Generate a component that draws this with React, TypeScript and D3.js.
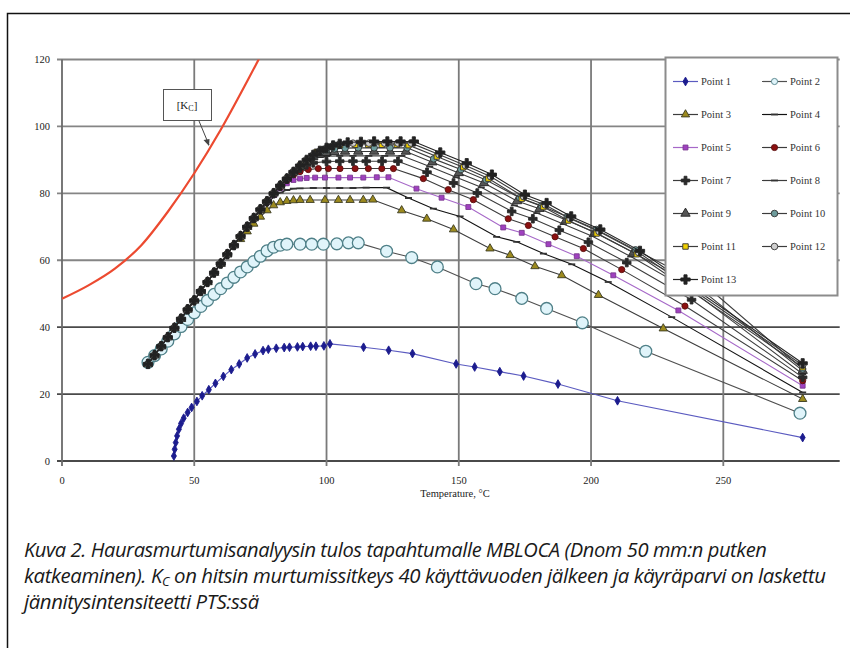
import { useEffect, useRef } from "react";
import * as d3 from "d3";

// Kc curve (fracture toughness after 40 years)
const kcT = [0, 10, 20, 30, 40, 50, 60, 70, 76];
const kcK = [48.5, 52.5, 57.5, 64.5, 74.5, 86, 99, 113.5, 122.5];

// rising branch shared by points 3..13
const riseT = [32.5, 35, 37.5, 40, 42.5, 45, 47.5, 50, 52.5, 55, 57.5, 60, 62.5, 65, 67.5, 70, 72.5, 75, 77.5, 80, 82.5, 85, 87.5, 90, 92.5, 95, 97.5, 100, 102.5, 105];
const riseK = [29, 31.6, 34.3, 37, 39.8, 42.5, 45.3, 48, 50.8, 53.5, 56.3, 59, 61.8, 64.5, 67.2, 70, 72.6, 75.2, 77.6, 80, 82.3, 84.4, 86.4, 88.3, 90, 91.5, 92.7, 93.6, 94.3, 94.8];

const point1 = [[42.3, 1.5], [42.6, 3.5], [43, 5.5], [43.5, 7.5], [44.2, 9.5], [45, 11.2], [46, 12.8], [47.5, 14.5], [49, 16], [51, 17.8], [53, 19.5], [55.5, 21.3], [58, 23.2], [61, 25.3], [64, 27.3], [67, 29], [70, 30.8], [73, 32], [76, 33], [78, 33.4], [81, 33.7], [84, 33.9], [86, 34], [89, 34.1], [91, 34.2], [94, 34.3], [96, 34.3], [99, 34.4], [101.3, 35], [114, 34], [123.5, 33.1], [132.5, 32.1], [149, 29], [156, 28.1], [165.5, 26.7], [174.5, 25.4], [187.5, 23], [210, 18], [280, 7]];
const point2 = [[32.5, 29.5], [35, 31.5], [37.5, 33.5], [40, 35.8], [42.5, 38], [45, 40.2], [47.5, 42.3], [50, 44.3], [52.5, 46.2], [55, 48], [57.5, 49.8], [60, 51.5], [62.5, 53.2], [65, 54.9], [67.5, 56.5], [70, 58], [72.5, 59.6], [75, 61.2], [77.5, 62.8], [80, 63.9], [82.5, 64.5], [85, 64.8], [90, 64.8], [94.4, 64.8], [98.8, 64.8], [103.9, 64.9], [108.3, 65.2], [112, 65.2], [122.7, 62.7], [132.2, 60.8], [141.9, 58], [156.5, 53], [163.7, 51.5], [173.8, 48.6], [183.2, 45.6], [196.7, 41.3], [220.7, 32.8], [279, 14.3]];
const point3 = [[67.5, 66.3], [70, 68.6], [72.5, 70.9], [75, 73], [77.5, 74.9], [80, 76.4], [82.5, 77.3], [85, 77.7], [87.5, 77.9], [90, 78], [93.8, 78], [99.4, 78], [104.5, 78], [108.9, 78], [113.9, 78], [117.5, 78.1], [128.4, 74.9], [137.9, 72.4], [148, 69.2], [161.8, 63.5], [169.4, 61.5], [178.8, 58.2], [188.9, 55.5], [202.8, 49.6], [227.3, 39.6], [280, 18.5]];
const point4 = [[72.5, 72.4], [75, 74.8], [77.5, 77], [80, 78.9], [82.5, 80.2], [85, 81], [87.5, 81.4], [90, 81.5], [95, 81.6], [100, 81.6], [105, 81.6], [110, 81.6], [115, 81.7], [122.7, 81.7], [131, 78.6], [140.4, 75.4], [150.5, 73.1], [164.3, 67], [171.9, 65.5], [182, 62], [192.7, 58.8], [206.5, 53.5], [230.5, 43], [280, 20.5]];
const point5 = [[75, 75], [77.5, 77.3], [80, 79.5], [82.5, 81.5], [85, 83], [87.5, 84], [90, 84.4], [92.5, 84.6], [95.7, 84.7], [99.4, 84.7], [104.5, 84.7], [108.9, 84.7], [113.9, 84.7], [119, 84.8], [123.4, 84.8], [134, 81.4], [143.5, 78.7], [153.6, 75.9], [166.8, 69.8], [173.8, 68.2], [183.9, 64.8], [194.6, 61.2], [208.4, 55.5], [233, 45], [280, 22.5]];
const point6 = [[80, 79.8], [82.5, 81.9], [85, 83.9], [87.5, 85.5], [90, 86.5], [93.1, 87.1], [96.9, 87.4], [100.7, 87.4], [105.1, 87.4], [110.8, 87.4], [115.8, 87.4], [120.9, 87.4], [125.3, 87.4], [136.6, 84.4], [146, 81.1], [155.5, 78.1], [168.7, 72.4], [176.3, 70.4], [186.4, 67], [197.1, 63.5], [211.6, 57.2], [235.5, 46.3], [280, 24]];
const point7 = [[82.5, 82.2], [85, 84.2], [87.5, 86], [90, 87.5], [92.5, 88.5], [95, 89.1], [100, 89.5], [105, 89.6], [110, 89.6], [115, 89.6], [121, 89.6], [127, 89.6], [138, 86.3], [148, 83.1], [157, 80.1], [170, 74.6], [178, 72.4], [188, 69], [199, 65.4], [213.5, 59.3], [238, 48.2], [280, 25]];
const point8 = [[85, 84.3], [87.5, 86.2], [90, 87.9], [92.5, 89.3], [95, 90.2], [97.5, 90.8], [100, 91.1], [105, 91.2], [110, 91.2], [116, 91.2], [122, 91.2], [128.5, 91.2], [139, 88], [149, 84.8], [158.5, 81.8], [171, 76.4], [179.5, 74.1], [189.5, 70.8], [200.5, 67.2], [215, 61.1], [240, 49.8], [280, 26]];
const point9 = [[87.5, 86.3], [90, 88.1], [92.5, 89.6], [95, 90.8], [97.5, 91.6], [100, 92.1], [103, 92.4], [107, 92.5], [112, 92.5], [118, 92.5], [124, 92.5], [130, 92.5], [140, 89.3], [150, 86.1], [159.5, 83.1], [172, 77.7], [180.5, 75.4], [190.5, 72], [201.5, 68.4], [216, 62.3], [242, 51], [280, 27]];
const point10 = [[90, 88.2], [92.5, 89.9], [95, 91.2], [97.5, 92.2], [100, 92.9], [103, 93.3], [107, 93.5], [112, 93.6], [118, 93.6], [124, 93.6], [130.5, 93.6], [140.5, 90.3], [150.8, 87.1], [160.3, 84], [173, 78.7], [181.3, 76.3], [191, 73], [202, 69.2], [216.8, 63.1], [244, 52], [280, 27.5]];
const point11 = [[92.5, 90], [96.3, 92.4], [101.3, 93.9], [105.1, 94.4], [110.8, 94.5], [115.8, 94.5], [120.9, 94.5], [126.6, 94.5], [131, 94.4], [141.7, 91], [151.7, 87.8], [161.2, 84.4], [173.8, 78.4], [182, 75.9], [191.4, 71.9], [202.1, 68], [217.3, 61.8], [280, 28]];
const point12 = [[110, 95], [116, 95], [122, 95], [127, 95], [132, 95], [142.5, 91.6], [152.5, 88.3], [162, 85], [174.5, 79], [182.7, 76.5], [192, 72.5], [203, 68.6], [218, 62.3], [280, 28.6]];
const point13 = [[108, 95.2], [113, 95.4], [118, 95.5], [123, 95.5], [128, 95.5], [133, 95.5], [143, 92.2], [153, 89], [162.5, 85.6], [175, 79.6], [183.2, 77.1], [192.5, 73.1], [203.5, 69.2], [218.5, 62.8], [280, 29.2]];

// how many of the shared rising points each series uses before its own values
const sharedCount = [0, 0, 15, 16, 17, 19, 20, 21, 22, 23, 24, 30, 30];
const ownPoints = [point1, point2, point3, point4, point5, point6, point7, point8, point9, point10, point11, point12, point13];
const seriesNames = ["Point 1", "Point 2", "Point 3", "Point 4", "Point 5", "Point 6", "Point 7", "Point 8", "Point 9", "Point 10", "Point 11", "Point 12", "Point 13"];

const xTicks = [0, 50, 100, 150, 200, 250];
const yTicks = [0, 20, 40, 60, 80, 100, 120];

const styles = [
    { line: "#5b5bc0", marker: "diamond", fill: "#1c1c8e", stroke: "#1c1c8e", size: 22 },
    { line: "#505050", marker: "circle", fill: "#e0f4fa", stroke: "#4f8088", size: 110 },
    { line: "#3c3c3c", marker: "triangle", fill: "#9c8a1e", stroke: "#3a3a20", size: 30 },
    { line: "#111111", marker: "dash", fill: "#333", stroke: "#333", size: 0 },
    { line: "#a668c8", marker: "square", fill: "#a040c0", stroke: "#7a3a90", size: 24 },
    { line: "#3c3c3c", marker: "circle", fill: "#8b1010", stroke: "#5a1010", size: 30 },
    { line: "#3c3c3c", marker: "cross", fill: "#2a2a2a", stroke: "#2a2a2a", size: 40 },
    { line: "#3c3c3c", marker: "dash", fill: "#333", stroke: "#333", size: 0 },
    { line: "#3c3c3c", marker: "triangle", fill: "#555", stroke: "#222", size: 38 },
    { line: "#3c3c3c", marker: "circle", fill: "#6e9c9c", stroke: "#333", size: 34 },
    { line: "#3c3c3c", marker: "square", fill: "#f0d000", stroke: "#333", size: 30 },
    { line: "#3c3c3c", marker: "circle", fill: "#d0d0d0", stroke: "#333", size: 34 },
    { line: "#222222", marker: "cross", fill: "#222", stroke: "#222", size: 48 },
];

const captionLines = [
    "Kuva 2. Haurasmurtumisanalyysin tulos tapahtumalle MBLOCA (Dnom 50 mm:n putken",
    "katkeaminen). K|C| on hitsin murtumissitkeys 40 käyttävuoden jälkeen ja käyräparvi on laskettu",
    "jännitysintensiteetti PTS:ssä",
];
const captionWidths = [743, 802, 0];

const symbolTypes: Record<string, any> = {
    diamond: d3.symbolDiamond,
    circle: d3.symbolCircle,
    triangle: d3.symbolTriangle,
    square: d3.symbolSquare,
    cross: d3.symbolCross,
};

function drawMarker(g: any, st: any, x: number, y: number) {
    if (st.marker === "dash") {
        g.append("line")
            .attr("x1", x - 3.5).attr("x2", x + 3.5)
            .attr("y1", y).attr("y2", y)
            .attr("stroke", st.stroke).attr("stroke-width", 1.8);
        return;
    }
    g.append("path")
        .attr("d", d3.symbol().type(symbolTypes[st.marker]).size(st.size)())
        .attr("transform", `translate(${x},${y})`)
        .attr("fill", st.fill)
        .attr("stroke", st.stroke)
        .attr("stroke-width", st.marker === "circle" && st.size > 60 ? 1.3 : 0.9);
}

export default function App() {
    const ref = useRef<SVGSVGElement>(null);

    useEffect(() => {
        const svg = d3.select(ref.current);
        svg.selectAll("*").remove();

        const xScale = d3.scaleLinear().domain([0, 294]).range([62, 839.7]);
        const yScale = d3.scaleLinear().domain([0, 120]).range([461, 59.5]);
        const left = xScale(0), right = xScale(294), top = yScale(120), bottom = yScale(0);

        // outer frame
        svg.append("path")
            .attr("d", `M7.5,648 L7.5,13.5 L850,13.5`)
            .attr("fill", "none").attr("stroke", "#111").attr("stroke-width", 1.5);

        svg.append("defs").append("clipPath").attr("id", "plotclip")
            .append("rect").attr("x", left).attr("y", top)
            .attr("width", right - left).attr("height", bottom - top);

        // grid
        const grid = svg.append("g");
        yTicks.forEach(v => {
            grid.append("line")
                .attr("x1", left - 5).attr("x2", right)
                .attr("y1", yScale(v)).attr("y2", yScale(v))
                .attr("stroke", v <= 40 ? "#4a4a4a" : "#858585")
                .attr("stroke-width", 1.8);
        });
        xTicks.forEach(v => {
            grid.append("line")
                .attr("x1", xScale(v)).attr("x2", xScale(v))
                .attr("y1", top).attr("y2", bottom + 5)
                .attr("stroke", v === 0 ? "#6a6a6a" : "#7a7a7a")
                .attr("stroke-width", 1.8);
        });

        // tick labels
        svg.append("g").selectAll("text").data(yTicks).join("text")
            .attr("x", 50).attr("y", d => yScale(d) + 3.5)
            .attr("text-anchor", "end")
            .style("font-family", "'Liberation Serif', serif").style("font-size", "10.5px")
            .attr("fill", "#222")
            .text(d => d);
        svg.append("g").selectAll("text").data(xTicks).join("text")
            .attr("x", d => xScale(d)).attr("y", 484)
            .attr("text-anchor", "middle")
            .style("font-family", "'Liberation Serif', serif").style("font-size", "10.5px")
            .attr("fill", "#222")
            .text(d => d);
        svg.append("text")
            .attr("x", 455).attr("y", 497)
            .attr("text-anchor", "middle")
            .style("font-family", "'Liberation Serif', serif").style("font-size", "10.5px")
            .attr("fill", "#222")
            .text("Temperature, °C");

        const plot = svg.append("g").attr("clip-path", "url(#plotclip)");

        // Kc curve
        const kcData = kcT.map((t, i) => [t, kcK[i]]);
        plot.append("path")
            .datum(kcData)
            .attr("fill", "none")
            .attr("stroke", "#ec4a30")
            .attr("stroke-width", 2.2)
            .attr("d", d3.line<any>().x(d => xScale(d[0])).y(d => yScale(d[1])).curve(d3.curveMonotoneX));

        // series
        const line = d3.line<any>().x(d => xScale(d[0])).y(d => yScale(d[1]));
        ownPoints.forEach((own, i) => {
            const shared = riseT.slice(0, sharedCount[i]).map((t, j) => [t, riseK[j]]);
            const data = shared.concat(own);
            const st = styles[i];
            const g = plot.append("g");
            g.append("path").datum(data)
                .attr("fill", "none")
                .attr("stroke", st.line)
                .attr("stroke-width", i === 0 ? 1.2 : 1.1)
                .attr("d", line);
            data.forEach(d => drawMarker(g, st, xScale(d[0]), yScale(d[1])));
        });

        // Kc label and arrow
        svg.append("rect")
            .attr("x", 163.5).attr("y", 89.5).attr("width", 48).attr("height", 31)
            .attr("fill", "#fff").attr("stroke", "#555").attr("stroke-width", 1);
        const kcLabel = svg.append("text")
            .attr("x", 187).attr("y", 109)
            .attr("text-anchor", "middle")
            .style("font-family", "'Liberation Serif', serif").style("font-size", "11px")
            .attr("fill", "#222");
        kcLabel.append("tspan").text("[K");
        kcLabel.append("tspan").attr("dy", 2).style("font-size", "8px").text("C");
        kcLabel.append("tspan").attr("dy", -2).text("]");
        svg.append("line")
            .attr("x1", 199).attr("y1", 121).attr("x2", 209).attr("y2", 145)
            .attr("stroke", "#444").attr("stroke-width", 1);
        svg.append("path")
            .attr("d", "M209,146 L203.5,140 L209.5,139 Z")
            .attr("fill", "#444");

        // legend
        const lg = svg.append("g");
        lg.append("rect")
            .attr("x", 665.5).attr("y", 57.5).attr("width", 172).attr("height", 238)
            .attr("fill", "#fff").attr("stroke", "#8c8c8c").attr("stroke-width", 2);
        seriesNames.forEach((name, i) => {
            const col = i % 2, row = Math.floor(i / 2);
            const x0 = col === 0 ? 673 : 762;
            const y0 = 81.5 + row * 33;
            const st = styles[i];
            lg.append("line")
                .attr("x1", x0).attr("x2", x0 + 25).attr("y1", y0).attr("y2", y0)
                .attr("stroke", st.line).attr("stroke-width", 1.2);
            const small = { ...st, size: st.marker === "circle" && st.size > 60 ? 30 : st.size };
            drawMarker(lg, small, x0 + 12.5, y0);
            lg.append("text")
                .attr("x", x0 + 28).attr("y", y0 + 3.5)
                .style("font-family", "'Liberation Serif', serif").style("font-size", "10.5px")
                .attr("fill", "#333")
                .text(name);
        });

        // caption: condensed italic look by squeezing each line horizontally
        let squeeze = 1;
        captionLines.forEach((txt, i) => {
            const g = svg.append("g");
            const t = g.append("text")
                .attr("x", 0).attr("y", 0)
                .style("font-family", "'Open Sans', sans-serif")
                .style("font-style", "italic")
                .style("font-size", "19.5px")
                .style("letter-spacing", "-0.4px")
                .attr("fill", "#1a1a1a");
            txt.split("|").forEach((part, j) => {
                const sp = t.append("tspan").text(part);
                if (j === 1) sp.attr("dy", 3).style("font-size", "12.5px");
                if (j === 2) sp.attr("dy", -3);
            });
            const w = (t.node() as SVGTextElement).getComputedTextLength();
            if (captionWidths[i] > 0 && w > 0) squeeze = captionWidths[i] / w;
            g.attr("transform", `translate(24,${557 + i * 26}) scale(${squeeze},1)`);
        });
    }, []);

    return (
        <svg ref={ref} width={850} height={648}
            style={{ position: "absolute", left: 0, top: 0, background: "#fff" }} />
    );
}
